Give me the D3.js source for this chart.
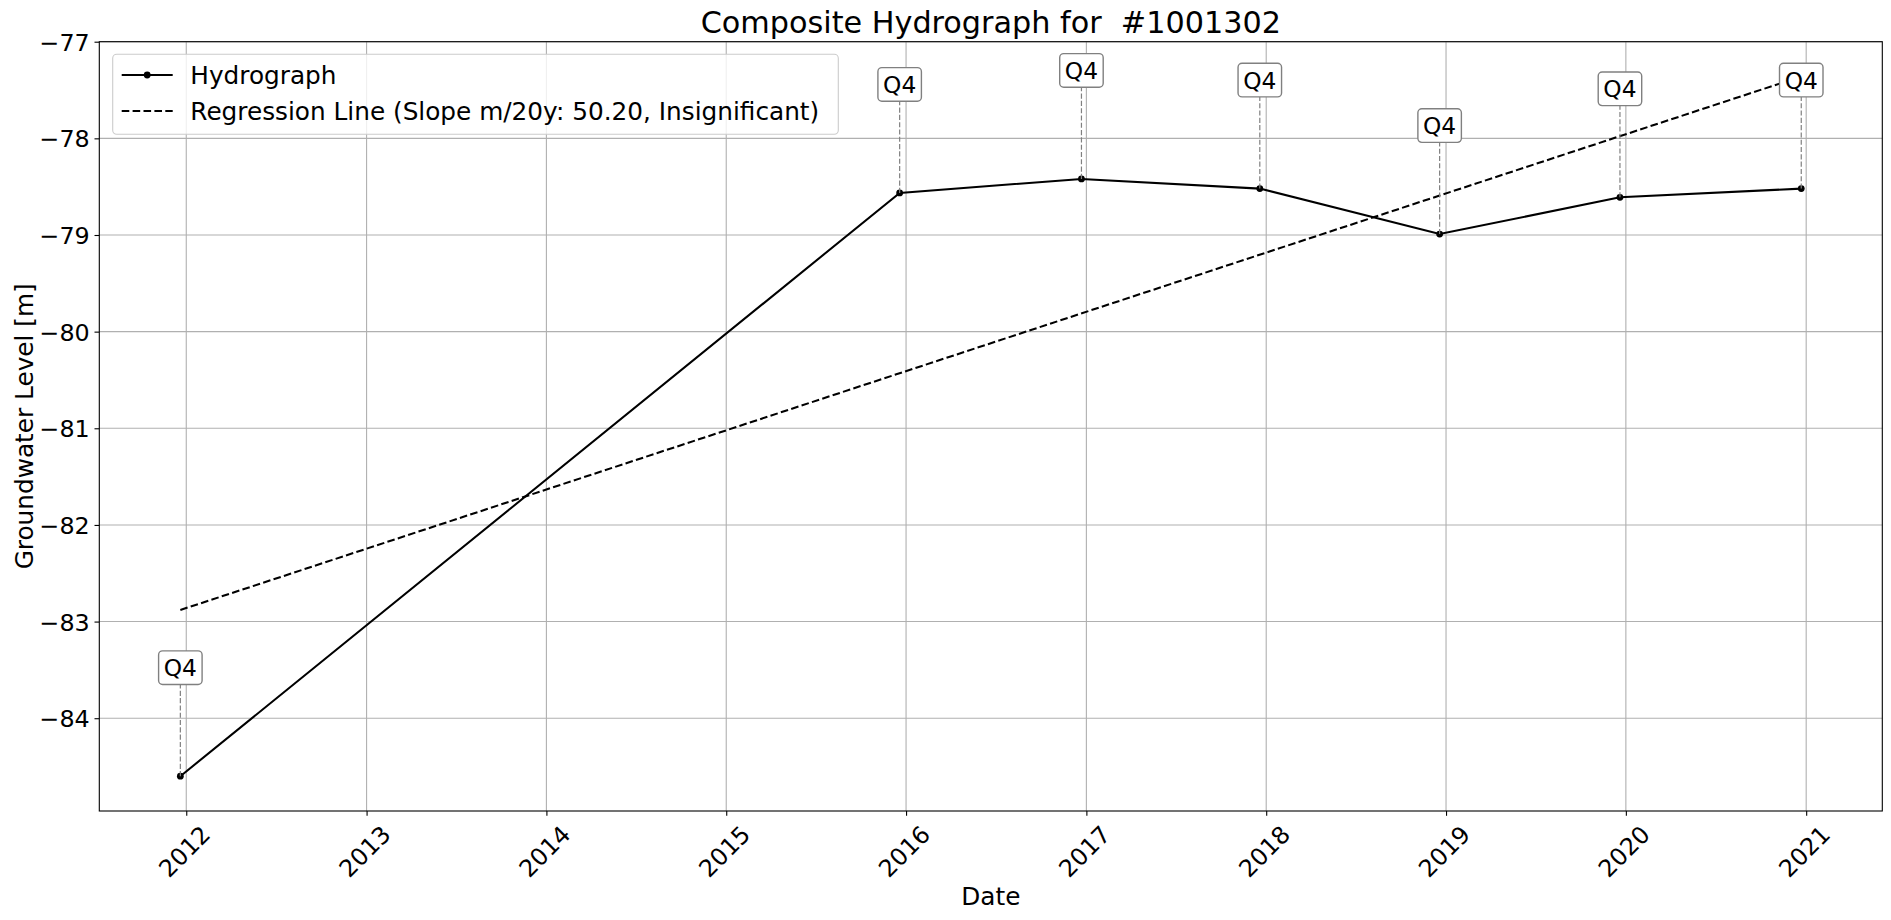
<!DOCTYPE html>
<html>
<head>
<meta charset="utf-8">
<script src="https://cdn.jsdelivr.net/npm/d3@7"></script>
<style>
  html, body { margin: 0; padding: 0; background: #fff; }
  svg { display: block; font-family: "DejaVu Sans", sans-serif; }
</style>
</head>
<body>
<svg id="chart" width="1891" height="920"></svg>
<script>
// ---- data ----
const dates = ["2011-12-20", "2015-12-19", "2016-12-22", "2017-12-19", "2018-12-19", "2019-12-20", "2020-12-22"];
const levels = [-84.60, -78.565, -78.42, -78.52, -78.99, -78.61, -78.52];
const quarterLabels = ["Q4", "Q4", "Q4", "Q4", "Q4", "Q4", "Q4"];
const regressionDates = ["2011-12-20", "2020-12-22"];
const regressionValues = [-82.88, -77.36];
const tickYears = [2012, 2013, 2014, 2015, 2016, 2017, 2018, 2019, 2020, 2021];
const yTicks = [-84, -83, -82, -81, -80, -79, -78, -77];
const yDomain = [-84.96, -77];
const titleText = "Composite Hydrograph for  #1001302";
const xLabel = "Date";
const yLabel = "Groundwater Level [m]";
const legendLabels = ["Hydrograph", "Regression Line (Slope m/20y: 50.20, Insignificant)"];

// ---- layout ----
const svg = d3.select("#chart");
const L = 99.3, R = 1882.3, T = 41.7, B = 811;
const parse = d3.utcParse("%Y-%m-%d");
const pts = dates.map((d, i) => ({ date: parse(d), value: levels[i], label: quarterLabels[i] }));
const t0 = pts[0].date.getTime(), t1 = pts[pts.length - 1].date.getTime();
const span = t1 - t0;
const x = d3.scaleUtc().domain([new Date(t0 - 0.05 * span), new Date(t1 + 0.05 * span)]).range([L, R]);
const y = d3.scaleLinear().domain(yDomain).range([B, T]);

// grid
const grid = svg.append("g");
tickYears.forEach(yr => {
  const xx = x(Date.UTC(yr, 0, 1));
  grid.append("line").attr("x1", xx).attr("x2", xx).attr("y1", T).attr("y2", B)
    .attr("stroke", "#b0b0b0").attr("stroke-width", 1.1);
});
yTicks.forEach(v => {
  grid.append("line").attr("x1", L).attr("x2", R).attr("y1", y(v)).attr("y2", y(v))
    .attr("stroke", "#b0b0b0").attr("stroke-width", 1.1);
});

// axes via d3
const xAxis = d3.axisBottom(x).tickValues(tickYears.map(yr => new Date(Date.UTC(yr, 0, 1))))
  .tickFormat(d3.utcFormat("%Y")).tickSize(4.8).tickPadding(0);
const gx = svg.append("g").attr("transform", `translate(0,${B})`).call(xAxis);
gx.select(".domain").remove();
gx.selectAll(".tick line").attr("stroke", "#000").attr("stroke-width", 1.1);
gx.selectAll(".tick text")
  .attr("font-size", "23.8px").attr("fill", "#000").attr("font-family", "DejaVu Sans")
  .attr("text-anchor", "middle").attr("dominant-baseline", "central")
  .attr("y", null).attr("dy", null)
  .attr("transform", "translate(-2,40.7) rotate(-45)");

const yAxis = d3.axisLeft(y).tickValues(yTicks).tickFormat(d => d3.format("d")(d).replace("-", "\u2212"))
  .tickSize(4.8).tickPadding(4.8);
const gy = svg.append("g").attr("transform", `translate(${L},0)`).call(yAxis);
gy.select(".domain").remove();
gy.selectAll(".tick line").attr("stroke", "#000").attr("stroke-width", 1.1);
gy.selectAll(".tick text").attr("font-size", "23.8px").attr("fill", "#000")
  .attr("font-family", "DejaVu Sans").attr("dy", "0.36em");

// regression line
const rline = d3.line().x(d => x(d[0])).y(d => y(d[1]));
svg.append("path")
  .datum(regressionDates.map((d, i) => [parse(d), regressionValues[i]]))
  .attr("d", rline).attr("fill", "none").attr("stroke", "#000")
  .attr("stroke-width", 2.06).attr("stroke-dasharray", "7.6,3.3");

// hydrograph
const hline = d3.line().x(d => x(d.date)).y(d => y(d.value));
svg.append("path").datum(pts).attr("d", hline).attr("fill", "none")
  .attr("stroke", "#000").attr("stroke-width", 2.06);
svg.append("g").selectAll("circle").data(pts).join("circle")
  .attr("cx", d => x(d.date)).attr("cy", d => y(d.value)).attr("r", 3.4).attr("fill", "#000");

// annotations
const OFF = 108.5, BW = 43.5, BH = 33.6;
const ann = svg.append("g");
pts.forEach(d => {
  const px = x(d.date), py = y(d.value);
  const cy = py - OFF;
  ann.append("line").attr("x1", px).attr("x2", px).attr("y1", py).attr("y2", cy + BH / 2)
    .attr("stroke", "#808080").attr("stroke-width", 1.2).attr("stroke-dasharray", "5.1,2.2");
  ann.append("rect").attr("x", px - BW / 2).attr("y", cy - BH / 2).attr("width", BW).attr("height", BH)
    .attr("rx", 4).attr("fill", "#fff").attr("stroke", "#808080").attr("stroke-width", 1.4);
  ann.append("text").attr("x", px).attr("y", cy + 8.5).attr("text-anchor", "middle")
    .attr("font-size", "23.3px").attr("fill", "#000").text(d.label);
});

// spines
svg.append("rect").attr("x", L).attr("y", T).attr("width", R - L).attr("height", B - T)
  .attr("fill", "none").attr("stroke", "#000").attr("stroke-width", 1.1);

// legend
const lg = svg.append("g");
lg.append("rect").attr("x", 112.7).attr("y", 54.3).attr("width", 838.3 - 112.7).attr("height", 134.3 - 54.3)
  .attr("rx", 4).attr("fill", "#fff").attr("fill-opacity", 0.8).attr("stroke", "#cccccc").attr("stroke-width", 1.1);
const rowY = [75, 111];
lg.append("line").attr("x1", 121.7).attr("x2", 172.7).attr("y1", rowY[0]).attr("y2", rowY[0])
  .attr("stroke", "#000").attr("stroke-width", 2.06);
lg.append("circle").attr("cx", 147.2).attr("cy", rowY[0]).attr("r", 3.4).attr("fill", "#000");
lg.append("line").attr("x1", 121.7).attr("x2", 172.7).attr("y1", rowY[1]).attr("y2", rowY[1])
  .attr("stroke", "#000").attr("stroke-width", 2.06).attr("stroke-dasharray", "7.6,3.3");
legendLabels.forEach((t, i) => {
  lg.append("text").attr("x", 190.3).attr("y", rowY[i] + 8.8).attr("font-size", "24.75px")
    .attr("fill", "#000").text(t);
});

// title and axis labels
svg.append("text").attr("x", (L + R) / 2).attr("y", 33.3).attr("text-anchor", "middle")
  .attr("font-size", "30.25px").attr("fill", "#000").style("white-space", "pre").text(titleText);
svg.append("text").attr("x", (L + R) / 2).attr("y", 905).attr("text-anchor", "middle")
  .attr("font-size", "24.75px").attr("fill", "#000").text(xLabel);
svg.append("text").attr("transform", `translate(33.3,${(T + B) / 2}) rotate(-90)`).attr("text-anchor", "middle")
  .attr("font-size", "24.75px").attr("fill", "#000").text(yLabel);
</script>
</body>
</html>
